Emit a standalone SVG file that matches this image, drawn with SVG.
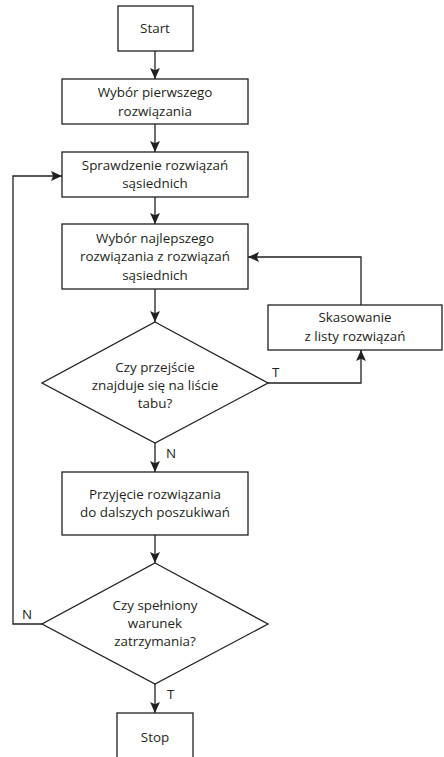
<svg xmlns="http://www.w3.org/2000/svg" width="444" height="757" viewBox="0 0 444 757">
  <style>
    .box { fill: #ffffff; stroke: #231f20; stroke-width: 1.3; }
    .edge { fill: none; stroke: #231f20; stroke-width: 1.3; }
    text { font-family: "Open Sans", "Liberation Sans", sans-serif; font-size: 13.4px; fill: #231f20; text-anchor: middle; }
    .lbl { text-anchor: start; }
  </style>
  <defs>
    <marker id="arrow" viewBox="0 0 10 10" refX="10" refY="5" markerWidth="11" markerHeight="11" markerUnits="userSpaceOnUse" orient="auto">
      <path d="M0,0.5 L10,5 L0,9.5 L2,5 Z" fill="#231f20"/>
    </marker>
  </defs>
  <rect width="444" height="757" fill="#ffffff"/>

  <g id="connectors">
    <line class="edge" x1="155" y1="51" x2="155" y2="79" marker-end="url(#arrow)"/>
    <line class="edge" x1="155" y1="124" x2="155" y2="152" marker-end="url(#arrow)"/>
    <line class="edge" x1="155" y1="197" x2="155" y2="224" marker-end="url(#arrow)"/>
    <line class="edge" x1="155" y1="289" x2="155" y2="322" marker-end="url(#arrow)"/>
    <polyline class="edge" points="268,383 361,383 361,350" marker-end="url(#arrow)"/>
    <polyline class="edge" points="361,305 361,257 248,257" marker-end="url(#arrow)"/>
    <line class="edge" x1="155" y1="443" x2="155" y2="472" marker-end="url(#arrow)"/>
    <line class="edge" x1="155" y1="535" x2="155" y2="563" marker-end="url(#arrow)"/>
    <polyline class="edge" points="42,624 13,624 13,176 62,176" marker-end="url(#arrow)"/>
    <line class="edge" x1="155" y1="684" x2="155" y2="713" marker-end="url(#arrow)"/>
    <text class="lbl" x="272" y="377">T</text>
    <text class="lbl" x="166" y="458">N</text>
    <text class="lbl" x="22" y="619">N</text>
    <text class="lbl" x="167" y="699">T</text>
  </g>

  <g id="start">
    <rect class="box" x="118" y="6" width="75" height="45"/>
    <text x="155" y="33">Start</text>
  </g>

  <g id="first-solution">
    <rect class="box" x="62" y="79" width="186" height="45"/>
    <text x="155" y="97">Wybór pierwszego</text>
    <text x="155" y="116">rozwiązania</text>
  </g>

  <g id="check-neighbours">
    <rect class="box" x="62" y="152" width="186" height="45"/>
    <text x="155" y="170">Sprawdzenie rozwiązań</text>
    <text x="155" y="188">sąsiednich</text>
  </g>

  <g id="best-neighbour">
    <rect class="box" x="62" y="224" width="186" height="65"/>
    <text x="155" y="243">Wybór najlepszego</text>
    <text x="155" y="261">rozwiązania z rozwiązań</text>
    <text x="155" y="280">sąsiednich</text>
  </g>

  <g id="tabu-check">
    <polygon class="box" points="155,322 268,383 155,443 42,383"/>
    <text x="155" y="372">Czy przejście</text>
    <text x="155" y="390">znajduje się na liście</text>
    <text x="155" y="408">tabu?</text>
  </g>

  <g id="remove-from-list">
    <rect class="box" x="268" y="305" width="174" height="45"/>
    <text x="355" y="322">Skasowanie</text>
    <text x="355" y="341">z listy rozwiązań</text>
  </g>

  <g id="accept-solution">
    <rect class="box" x="62" y="472" width="186" height="63"/>
    <text x="155" y="499">Przyjęcie rozwiązania</text>
    <text x="155" y="517">do dalszych poszukiwań</text>
  </g>

  <g id="stop-check">
    <polygon class="box" points="155,563 268,624 155,684 42,624"/>
    <text x="155" y="610">Czy spełniony</text>
    <text x="155" y="628">warunek</text>
    <text x="155" y="646">zatrzymania?</text>
  </g>

  <g id="stop">
    <rect class="box" x="117" y="713" width="76" height="50"/>
    <text x="155" y="742">Stop</text>
  </g>
</svg>
